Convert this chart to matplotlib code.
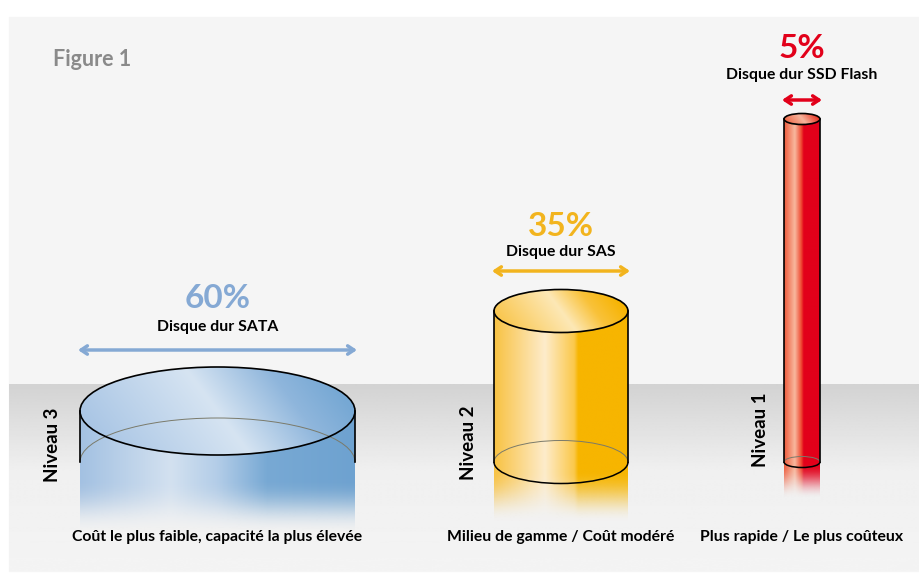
import numpy as np
import matplotlib.pyplot as plt
from matplotlib.colors import to_rgb
from matplotlib.patches import Rectangle, Ellipse, Arc, PathPatch
from matplotlib.path import Path

# chart data
tiers = ["Niveau 3", "Niveau 2", "Niveau 1"]
shares = [60, 35, 5]
disk_types = ["Disque dur SATA", "Disque dur SAS", "Disque dur SSD Flash"]
descriptions = ["Coût le plus faible, capacité la plus élevée",
                "Milieu de gamme / Coût modéré",
                "Plus rapide / Le plus coûteux"]

# layout in pixels (figure is drawn in pixel coordinates)
centers = [217.5, 561, 802]
half_widths = [137.5, 67, 18]
tops = [411, 311, 119]
bottom = 462
radii_y = [44, 21.5, 5.5]
tails = [28, 40, 32]
tier_pos = [(53, 445), (469, 443), (760, 430)]
pct_y = [299, 227, 48]
type_y = [327, 252, 75]
arrow_y = [350, 271, 100]
front_arc = [False, True, True]

accent = ["#85a9d4", "#f2b41e", "#e2001a"]
body_stops = [
    [(0, "#a3c1e2"), (0.33, "#d3e1f0"), (0.5, "#b3cde8"), (0.68, "#78a9d4"), (1, "#6ea2d0")],
    [(0, "#f8c242"), (0.38, "#feeccb"), (0.6, "#fbc84a"), (0.63, "#f7b500"), (1, "#f7b500")],
    [(0, "#ee5a3a"), (0.3, "#f8b89e"), (0.48, "#ef4a32"), (0.55, "#e2001a"), (1, "#e2001a")],
]
top_stops = [
    [(0, "#aac6e5"), (0.5, "#d6e4f2"), (0.8, "#8fb6dc"), (1, "#76a8d4")],
    [(0, "#f9c750"), (0.5, "#fde8b6"), (0.75, "#f9c23a"), (1, "#f6b300")],
    [(0, "#ef6a4a"), (0.5, "#f6b49c"), (1, "#e63020")],
]


def gradient(stops, u):
    pos = [p for p, c in stops]
    cols = np.array([to_rgb(c) for p, c in stops])
    return np.stack([np.interp(u, pos, cols[:, k]) for k in range(3)], axis=-1)


fig = plt.figure(figsize=(9.19, 5.88), dpi=100)
ax = fig.add_axes([0, 0, 1, 1])

# panel and floor
ax.add_patch(Rectangle((9, 17), 910, 554, color="#f5f5f5", zorder=0))
t = np.linspace(0, 1, 200)
shade = np.interp(t, [0, 0.46, 1], [0.825, 0.94, 0.955])
ax.imshow(np.repeat(shade[:, None], 2, axis=1), cmap="gray", vmin=0, vmax=1,
          extent=(9, 919, 571, 384), aspect="auto", zorder=0.5,
          interpolation="bilinear")

for i in range(3):
    xc, w, yt, ry = centers[i], half_widths[i], tops[i], radii_y[i]
    x0, x1 = xc - w, xc + w
    y0, y1 = yt - ry, bottom + ry + tails[i]

    # body with reflection fading out below
    n, m = 300, 400
    col = gradient(body_stops[i], np.linspace(0, 1, n))
    ys = np.linspace(y0, y1, m)
    fs = bottom + 0.4 * ry
    tt = np.clip((ys - fs) / (y1 - fs), 0, 1)
    alpha = 0.5 * (1 + np.cos(np.pi * tt))
    rgba = np.zeros((m, n, 4))
    rgba[..., :3] = col[None, :, :]
    rgba[..., 3] = alpha[:, None]
    im = ax.imshow(rgba, extent=(x0, x1, y1, y0), aspect="auto", zorder=2,
                   interpolation="bilinear")
    th = np.linspace(np.pi, 2 * np.pi, 80)
    verts = list(zip(xc + w * np.cos(th), yt + ry * np.sin(th)))
    verts += [(x1, y1), (x0, y1), verts[0]]
    codes = [Path.MOVETO] + [Path.LINETO] * (len(verts) - 2) + [Path.CLOSEPOLY]
    clip = PathPatch(Path(verts, codes), transform=ax.transData)
    im.set_clip_path(clip)

    # top face
    gx, gy = np.meshgrid(np.linspace(0, 1, n), np.linspace(-1, 1, 100))
    u = np.clip(gx - 0.12 * gy, 0, 1)
    top = ax.imshow(gradient(top_stops[i], u), extent=(x0, x1, yt + ry, yt - ry),
                    aspect="auto", zorder=3, interpolation="bilinear")
    top.set_clip_path(Ellipse((xc, yt), 2 * w, 2 * ry, transform=ax.transData))

    # outlines
    ax.add_patch(Arc((xc, bottom), 2 * w, 2 * ry, theta1=180, theta2=360,
                     color="#7a7a6a", lw=0.7, zorder=4))
    if front_arc[i]:
        ax.add_patch(Arc((xc, bottom), 2 * w, 2 * ry, theta1=0, theta2=180,
                         color="black", lw=1.1, zorder=4))
    ax.add_patch(Ellipse((xc, yt), 2 * w, 2 * ry, fill=False, ec="black",
                         lw=1.2, zorder=5))
    ax.plot([x0, x0], [yt, bottom], color="black", lw=1.2, zorder=5)
    ax.plot([x1, x1], [yt, bottom], color="black", lw=1.2, zorder=5)

    # width arrow and labels
    ax.annotate("", xy=(x1 + 2, arrow_y[i]), xytext=(x0 - 2, arrow_y[i]),
                arrowprops=dict(arrowstyle="<->,head_length=0.45,head_width=0.3",
                                color=accent[i], lw=2.5, shrinkA=0, shrinkB=0),
                zorder=6)
    ax.text(xc, pct_y[i], f"{shares[i]}%", color=accent[i], fontsize=24,
            fontweight="bold", family="Lato", ha="center", va="center", zorder=6)
    ax.text(xc, type_y[i], disk_types[i], color="black", fontsize=11.3,
            fontweight="bold", family="Lato", ha="center", va="center", zorder=6)
    ax.text(tier_pos[i][0], tier_pos[i][1], tiers[i], color="black", fontsize=13.5,
            fontweight="bold", family="Lato", rotation=90, ha="center",
            va="center", zorder=6)
    ax.text(xc, 537, descriptions[i], color="black", fontsize=11.3,
            fontweight="bold", family="Lato", ha="center", va="center", zorder=6)

ax.text(53, 60, "Figure 1", color="#8a8a8a", fontsize=15.5, fontweight="bold",
        family="Lato", ha="left", va="center")

ax.set_xlim(0, 919)
ax.set_ylim(588, 0)
ax.axis("off")
fig.savefig("out.png", dpi=100, facecolor="white")
